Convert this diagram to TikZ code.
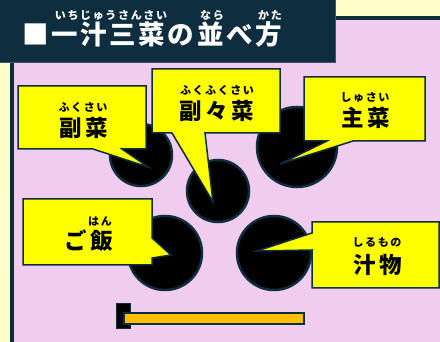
\documentclass[tikz,border=0pt]{standalone}
\usepackage{fontspec}
\setmainfont{Noto Sans CJK JP}
\definecolor{navy}{HTML}{0E2D3E}
\definecolor{pinkbg}{HTML}{F0CDEE}
\definecolor{paleyellow}{HTML}{FFFFCC}
\definecolor{callyellow}{HTML}{FFFF00}
\definecolor{barorange}{HTML}{FFC000}
\begin{document}
\begin{tikzpicture}[x=1pt,y=-1pt,
  callbox/.style={fill=callyellow, draw=navy, line width=1.5pt, line join=miter},
  plate/.style={circle, fill=black, draw=navy, line width=2.5pt, inner sep=0pt},
  ruby/.style={font=\fontsize{11}{11}\selectfont\bfseries\addfontfeature{LetterSpace=14}, inner sep=0pt},
  dish/.style={font=\fontsize{22.5}{22.5}\selectfont\bfseries\addfontfeature{LetterSpace=16}, inner sep=0pt},
  truby/.style={font=\fontsize{11}{11}\selectfont\bfseries\addfontfeature{LetterSpace=15}, inner sep=0pt, text=white},
  ttl/.style={font=\fontsize{26.5}{26.5}\selectfont\bfseries\addfontfeature{LetterSpace=10}, inner sep=0pt, text=white, anchor=west}
]
\useasboundingbox (0,0) rectangle (440,342);
% background
\fill[paleyellow] (0,0) rectangle (440,342);
\fill[pinkbg] (12,18) rectangle (440,342);
\draw[navy, line width=4pt] (12,0) -- (12,342);
\draw[navy, line width=4pt] (0,18) -- (440,18);
% title bar
\fill[navy] (0,0) rectangle (335,62);
\draw[navy!80!white, line width=0.8pt] (335,0) -- (335,62) -- (0,62);
\node[ttl] (title) at (22,34) {■一汁三菜の並べ方};
\node[truby] (r1) at (111,15) {いちじゅうさんさい};
\node[truby] (r2) at (212,15) {なら};
\node[truby] (r3) at (270,15) {かた};
% plates
\node[plate, minimum size=62pt] (p1) at (141,155) {};
\node[plate, minimum size=62pt] (p2) at (218,191) {};
\node[plate, minimum size=80pt] (p3) at (297,147) {};
\node[plate, minimum size=74pt] (p4) at (165,253) {};
\node[plate, minimum size=74pt] (p5) at (274,253) {};
% callouts
\draw[callbox] (18,86) -- (146,86) -- (146,149) -- (122,149) -- (148,167) -- (93,149) -- (18,149) -- cycle;
\draw[callbox] (152,69) -- (280,69) -- (280,133) -- (205,133) -- (213,202) -- (172,133) -- (152,133) -- cycle;
\draw[callbox] (304,77) -- (425,77) -- (425,141) -- (353,141) -- (280,164) -- (327,141) -- (304,141) -- cycle;
\draw[callbox] (23,199) -- (152,199) -- (152,238) -- (171,255) -- (152,258) -- (152,265) -- (23,265) -- cycle;
\draw[callbox] (312,222) -- (439,222) -- (439,288) -- (312,288) -- (312,250) -- (257,251) -- (312,233) -- cycle;
% texts
\node[ruby] (fr) at (83,107) {ふくさい};
\node[dish] (fm) at (84,128) {副菜};
\node[ruby] (ffr) at (217,90) {ふくふくさい};
\node[dish] (ffm) at (217,111) {副々菜};
\node[ruby] (sr) at (365,97) {しゅさい};
\node[dish] (sm) at (366,118) {主菜};
\node[ruby] (gr) at (100,221) {はん};
\node[dish] (gm) at (89,241) {ご飯};
\node[ruby] (jr) at (377,242) {しるもの};
\node[dish] (jm) at (378,265) {汁物};
% bottom bar
\fill[black, draw=navy, line width=0.8pt] (116,303) rectangle (130,328);
\draw[fill=barorange, draw=navy, line width=1.5pt] (124,313) rectangle (304,324);
\end{tikzpicture}
\end{document}
